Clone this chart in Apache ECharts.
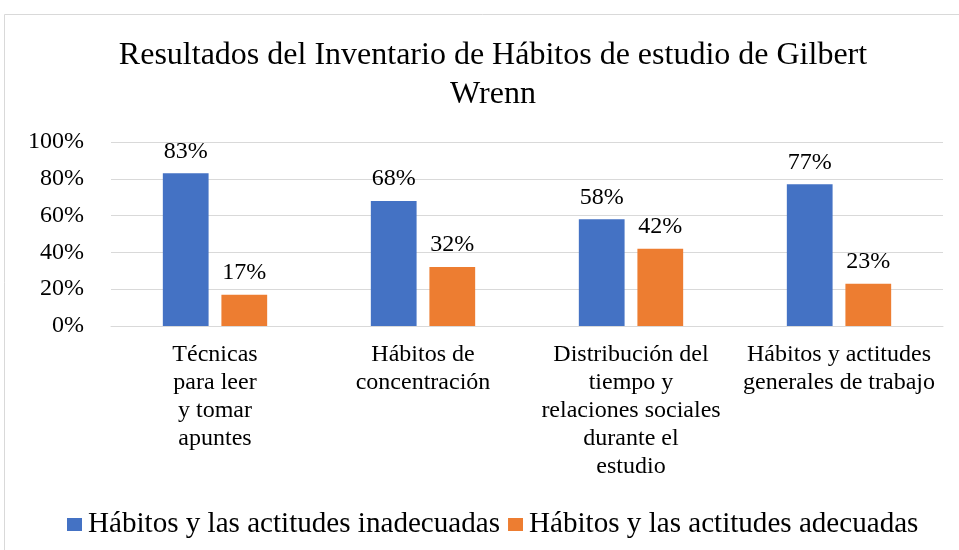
<!DOCTYPE html>
<html>
<head>
<meta charset="utf-8">
<script src="https://cdn.jsdelivr.net/npm/echarts@6/dist/echarts.min.js"></script>
<style>
  html, body { margin: 0; padding: 0; background: #fff; }
  #chart { width: 959px; height: 550px; }
</style>
</head>
<body>
<div id="chart"></div>
<script>
// datos
const categorias = [
  'Técnicas\npara leer\ny tomar\napuntes',
  'Hábitos de\nconcentración',
  'Distribución del\ntiempo y\nrelaciones sociales\ndurante el\nestudio',
  'Hábitos y actitudes\ngenerales de trabajo'
]
const inadecuadas = [83, 68, 58, 77]
const adecuadas = [17, 32, 42, 23]
const nombres = ['Hábitos y las actitudes inadecuadas', 'Hábitos y las actitudes adecuadas']

const fuente = 'Liberation Serif'
const chart = echarts.init(document.getElementById('chart'))

chart.setOption({
  animation: false,
  textStyle: { fontFamily: fuente, color: '#000' },
  title: {
    text: 'Resultados del Inventario de Hábitos de estudio de Gilbert\nWrenn',
    left: 488,
    top: 31,
    textAlign: 'center',
    textStyle: { fontFamily: fuente, fontWeight: 'normal', fontSize: 32, lineHeight: 39, color: '#000' }
  },
  graphic: [{
    type: 'rect',
    shape: { x: 4.5, y: 14.5, width: 1000, height: 600 },
    style: { fill: 'none', stroke: '#d9d9d9', lineWidth: 1 },
    silent: true
  }],
  legend: {
    data: nombres,
    left: 62,
    top: 505,
    icon: 'rect',
    itemWidth: 15,
    itemHeight: 13,
    itemGap: 8,
    textStyle: { fontFamily: fuente, fontSize: 29.1, color: '#000', padding: [0, 0, 0, 1] }
  },
  grid: { left: 111, right: 16, top: 142, bottom: 224 },
  xAxis: {
    type: 'category',
    data: categorias,
    axisTick: { show: false },
    axisLine: { lineStyle: { color: '#d9d9d9', width: 1 } },
    axisLabel: {
      fontFamily: fuente, fontSize: 24, lineHeight: 28, color: '#000',
      margin: 15, interval: 0, align: 'center'
    }
  },
  yAxis: {
    type: 'value',
    min: 0,
    max: 100,
    interval: 20,
    axisLine: { show: false },
    axisTick: { show: false },
    splitLine: { lineStyle: { color: '#d9d9d9', width: 1 } },
    axisLabel: { formatter: '{value}%', fontFamily: fuente, fontSize: 24, color: '#000', margin: 27 }
  },
  series: [
    {
      name: nombres[0],
      type: 'bar',
      data: inadecuadas,
      barWidth: '22%',
      barGap: '28%',
      itemStyle: { color: '#4472c4' },
      label: { show: true, position: 'top', distance: 10, formatter: '{c}%', fontFamily: fuente, fontSize: 24, color: '#000' }
    },
    {
      name: nombres[1],
      type: 'bar',
      data: adecuadas,
      barWidth: '22%',
      itemStyle: { color: '#ed7d31' },
      label: { show: true, position: 'top', distance: 10, formatter: '{c}%', fontFamily: fuente, fontSize: 24, color: '#000' }
    }
  ]
})
</script>
</body>
</html>
